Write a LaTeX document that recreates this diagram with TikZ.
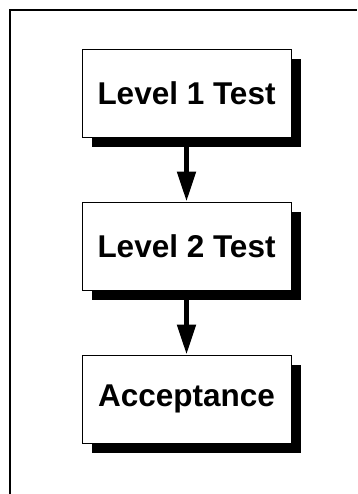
\documentclass[tikz,border=0pt]{standalone}
\usepackage{fontspec}
\setmainfont{Liberation Sans}
\usetikzlibrary{shadows,arrows.meta}
\begin{document}
\begin{tikzpicture}[x=1pt,y=1pt,
  stagebox/.style={draw=black, line width=0.9pt, fill=white, minimum width=209pt, minimum height=88pt,
    inner sep=0pt, font=\fontsize{31.5}{36}\selectfont\bfseries,
    drop shadow={shadow xshift=10pt, shadow yshift=-10pt, fill=black, opacity=1}},
  flowarrow/.style={line width=5pt, -{Triangle[width=18pt,length=30pt]}}]
\useasboundingbox (0,0) rectangle (357,-494);
\draw[line width=2pt] (9.5,-494) -- (9.5,-10.5) -- (357,-10.5);
\node[stagebox] (l1) at (186.5,-93) {Level 1 Test};
\node[stagebox] (l2) at (186.5,-246) {Level 2 Test};
\node[stagebox] (acc) at (186.5,-399) {Acceptance};
\draw[flowarrow] (l1.south) -- (l2.north);
\draw[flowarrow] (l2.south) -- (acc.north);
\end{tikzpicture}
\end{document}
